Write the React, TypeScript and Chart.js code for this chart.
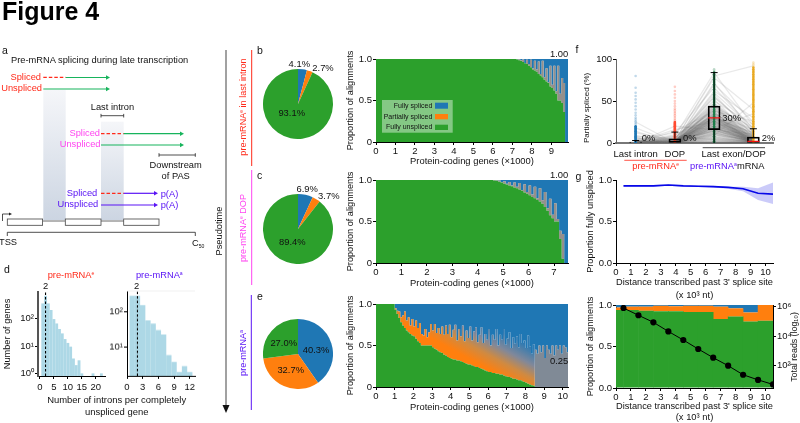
import React, { useEffect, useRef } from 'react';
import { Chart, registerables } from 'chart.js';
Chart.register(...registerables);

const FONT = '"Liberation Sans", Arial, sans-serif';
Chart.defaults.font.family = FONT;
Chart.defaults.color = '#111';

const GREEN = '#2ca02c', ORANGE = '#ff7f0e', BLUE = '#1f77b4', LIGHT = '#add8e6';
const RED = '#ff2a1a', MAGENTA = '#ff44f0', VIOLET = '#5a14f5';
const MIXED = '#95908c';

// pies
const pieB = [4.1, 2.7, 93.1];
const pieC = [6.9, 3.7, 89.4];
const pieE = [40.3, 32.7, 27.0];

// panel b: genes (x1000) sorted, fractions per gene bin
const rankB = [0, 7.1, 7.2, 7.3, 7.4, 7.5, 7.6, 7.7, 7.8, 7.9, 8.0, 8.1, 8.2, 8.3, 8.4, 8.5, 8.6, 8.7, 8.8, 8.9, 9.0, 9.1, 9.2, 9.3, 9.4, 9.5, 9.6, 9.7, 9.8, 9.85];
const greenB = [1, 1, .995, .985, .975, .965, .95, .94, .92, .90, .875, .86, .845, .82, .80, .78, .75, .73, .71, .67, .65, .62, .58, .50, .50, .47, .36, 0, 0, 0];
const orangeB = [0, 0, .003, .012, .01, .03, 0, .05, .02, .09, .01, .12, .03, .15, .02, .2, .03, .16, .01, .25, .04, .3, .03, .42, .08, .3, .35, 0, 0, 0];
const blueB = [0, 0, .002, .003, .015, .005, .05, .01, .06, .01, .115, .02, .125, .03, .18, .02, .22, .11, .28, .08, .31, .08, .39, .08, .42, .23, .29, 1, 1, 1];

// panel c
const rankC = [0, 4.5, 4.6, 4.7, 4.8, 4.9, 5.0, 5.1, 5.2, 5.3, 5.4, 5.5, 5.6, 5.7, 5.8, 5.9, 6.0, 6.1, 6.2, 6.3, 6.4, 6.5, 6.6, 6.7, 6.8, 6.9, 7.0, 7.1, 7.2, 7.3, 7.4, 7.5, 7.55];
const greenC = [1, 1, .995, .99, .98, .97, .955, .945, .935, .925, .91, .90, .885, .87, .85, .835, .815, .795, .78, .76, .74, .715, .675, .63, .575, .54, .50, .50, .29, .05, 0, 0, 0];
const orangeC = [0, 0, .004, .006, .015, .005, .03, .01, .04, .01, .06, .02, .08, .01, .1, .02, .12, .03, .14, .02, .16, .04, .18, .03, .2, .04, .22, .03, .1, .3, 0, 0, 0];
const blueC = [0, 0, .001, .004, .005, .025, .015, .045, .025, .065, .03, .08, .035, .12, .05, .145, .065, .175, .08, .22, .10, .245, .145, .34, .225, .42, .28, .47, .61, .65, 1, 1, 1];

// panel e
const rankE = [0, .9, 1.0, 1.1, 1.2, 1.3, 1.4, 1.5, 1.6, 1.7, 1.8, 1.9, 2.0, 2.1, 2.2, 2.3, 2.4, 2.5, 2.6, 2.7, 2.8, 2.9, 3.0, 3.1, 3.2, 3.3, 3.4, 3.5, 3.6, 3.7, 3.8, 3.9, 4.0, 4.1, 4.2, 4.3, 4.4, 4.5, 4.6, 4.7, 4.8, 4.9, 5.0, 5.1, 5.2, 5.3, 5.4, 5.5, 5.6, 5.7, 5.8, 5.9, 6.0, 6.1, 6.2, 6.3, 6.4, 6.5, 6.6, 6.7, 6.8, 6.9, 7.0, 7.1, 7.2, 7.3, 7.4, 7.5, 7.6, 7.7, 7.8, 7.9, 8.0, 8.1, 8.2, 8.3, 8.4, 8.5, 8.6, 8.7, 8.8, 8.9, 9.0, 9.1, 9.2, 9.3, 9.4, 9.5, 9.6, 9.7, 9.8, 9.9, 10.0, 10.1, 10.2, 10.28];
const greenE = [1, 1, .93, .88, .83, .78, .74, .71, .68, .66, .64, .62, .61, .58, .55, .53, .50, .50, .50, .50, .50, .50, .48, .46, .45, .43, .42, .41, .39, .38, .36, .35, .34, .33, .33, .32, .32, .31, .30, .29, .28, .27, .27, .26, .25, .24, .24, .23, .22, .21, .20, .19, .18, .18, .17, .17, .16, .16, .15, .15, .14, .13, .125, .12, .11, .10, .10, .09, .08, .08, .07, .06, .05, .04, .03, .02, .015, 0, 0, 0, 0, 0, 0, 0, 0, 0, 0, 0, 0, 0, 0, 0, 0, 0, 0, 0];
const orangeE = [0, 0, .02, .04, .08, .06, .12,
  .2, .12, .18, .1, .2,
  .12, .22, .16, .24, .14, .12, .2, .1, .16, .26,
  .2, .3, .2, .28, .22, .32, .24, .36, .28, .4,
  .26, .36, .42, .24, .38, .3, .44, .26, .4, .32,
  .46, .3, .42, .48, .3, .4, .5, .32, .44, .38,
  .52, .32, .46, .4, .54, .34, .48, .42, .56, .38,
  .46, .54, .36, .5, .42, .52, .4, .56, .46, .5,
  .42, .58, .46, .38, .5,
  0, 0, 0, 0, 0, 0, 0, 0, 0, 0, 0, 0, 0, 0, 0, 0, 0, 0, 0];
// genes past 8500 whose partial and spliced reads blend to grey at this scale
const mixedE = [0, 0, 0, 0, 0, 0, 0,
  0, 0, 0, 0, 0,
  0, 0, 0, 0, 0, 0, 0, 0, 0, 0,
  0, 0, 0, 0, 0, 0, 0, 0, 0, 0,
  0, 0, 0, 0, 0, 0, 0, 0, 0, 0,
  0, 0, 0, 0, 0, 0, 0, 0, 0, 0,
  0, 0, 0, 0, 0, 0, 0, 0, 0, 0,
  0, 0, 0, 0, 0, 0, 0, 0, 0, 0,
  0, 0, 0, 0, 0,
  .45, .4, .5, .42, .5, .35, .5, .45, .4, .5, .38, .5, .45, .5, .4, .5, .48, .42, .42];
const blueE = [0, 0, .05, .08, .09, .16, .14,
  .09, .2, .16, .26, .18,
  .27, .2, .29, .23, .36, .38, .3, .4, .34, .24,
  .32, .24, .35, .29, .36, .27, .37, .26, .36, .25,
  .4, .31, .25, .44, .3, .39, .26, .45, .32, .41,
  .27, .44, .33, .28, .46, .37, .28, .47, .36, .43,
  .3, .5, .37, .43, .3, .5, .37, .43, .3, .49,
  .415, .34, .53, .4, .48, .39, .52, .36, .47, .44,
  .53, .38, .51, .6, .485,
  .55, .6, .5, .58, .5, .65, .5, .55, .6, .5, .62, .5, .55, .5, .6, .5, .52, .58, .58];
const refE = [0.25, 0.25];

// panel d
const binsD1 = [1, 2, 3, 4, 5, 6, 7, 8, 9, 10, 11, 12, 13, 14, 15, 19, 22];
const genesD1 = [363, 693, 363, 208, 97, 67, 42, 29, 18, 13, 9.5, 3.5, 2, 3, 1, 1, 1];
const binsD2 = [1, 2, 3, 4, 5, 6, 7, 8, 9, 10, 11, 12];
const genesD2 = [286, 286, 155, 57, 46, 30, 22.5, 5.8, 3.7, 1.9, 2.8, 1.9];
const ticksD1 = [1, 10, 100];
const labelsD1 = ['10⁰', '10¹', '10²'];
const ticksD2 = [10, 100];
const labelsD2 = ['10¹', '10²'];

// panel f: per-gene partially spliced (%) at four regions
const lastIntronPS = [1, 0, 0, 4, 0, 0, 8, 0, 0, 2, 0, 0, 0, 1, 0, 0, 12, 0, 0, 0, 3, 0, 0, 0, 0, 0, 6, 0, 0, 1, 0, 0, 0, 2, 0, 0, 0, 0, 18, 0, 0, 0, 1, 0, 0, 0, 5, 0, 0, 0, 0, 0, 2, 0, 0, 0, 0, 25, 0, 0, 1, 0, 0, 0, 0, 3, 0, 0, 0, 0, 0, 0, 0, 2, 0, 0, 0, 5, 0, 0, 1, 0, 0, 0, 9, 0, 0, 0, 2, 0, 0, 0, 0, 1, 0, 0, 14, 0, 0, 0, 0, 3, 0, 0, 0, 1, 0, 0, 0, 0, 7, 0, 0, 0, 0, 2, 0, 0, 0, 0];
const dopPS = [8, 3, 0, 12, 1, 0, 5, 0, 2, 0, 0, 6, 0, 1, 0, 0, 3, 0, 14, 0, 0, 2, 0, 0, 7, 0, 1, 0, 0, 4, 0, 0, 0, 10, 0, 0, 2, 0, 0, 0, 1, 0, 5, 0, 0, 0, 3, 0, 0, 0, 0, 2, 0, 0, 0, 1, 0, 0, 20, 0, 0, 0, 4, 0, 0, 0, 0, 1, 0, 0, 0, 0, 3, 0, 1, 0, 6, 0, 0, 2, 0, 9, 0, 0, 1, 0, 4, 0, 0, 0, 2, 0, 0, 16, 0, 1, 0, 0, 3, 0, 0, 0, 1, 0, 5, 0, 0, 0, 2, 0, 0, 0, 1, 0, 0, 8, 0, 0, 0, 0];
const lastExonPS = [84, 78, 72, 66, 62, 58, 55, 52, 50, 48, 46, 45, 44, 43, 42, 41, 40, 39, 38, 37, 36, 35, 34, 34, 33, 32, 32, 31, 31, 30, 30, 30, 29, 29, 28, 28, 27, 27, 26, 26, 25, 25, 24, 24, 23, 23, 22, 21, 21, 20, 20, 19, 19, 18, 18, 17, 17, 16, 16, 15, 15, 14, 13, 12, 11, 10, 9, 8, 6, 5, 3, 1, 80, 70, 60, 55, 47, 44, 42, 40, 38, 37, 36, 35, 34, 33, 32, 31, 30, 29, 28, 27, 26, 25, 24, 23, 22, 21, 20, 19, 18, 17, 16, 15, 14, 13, 12, 11, 10, 9, 8, 7, 6, 5, 4, 4, 3, 2, 2, 1];
const mrnaPS = [20, 40, 12, 17, 30, 9, 15, 6, 22, 11, 4, 14, 3, 18, 8, 2, 13, 7, 26, 1, 5, 10, 0, 16, 3, 6, 2, 9, 0, 12, 4, 1, 7, 0, 3, 5, 2, 0, 8, 1, 4, 0, 6, 2, 0, 3, 1, 0, 5, 2, 0, 1, 0, 4, 0, 2, 35, 0, 1, 0, 3, 0, 1, 0, 2, 0, 48, 0, 1, 0, 0, 0, 92, 25, 18, 14, 10, 8, 6, 5, 4, 3, 2, 1, 0, 7, 3, 1, 0, 12, 5, 2, 0, 9, 4, 1, 0, 6, 2, 0, 3, 1, 0, 11, 4, 0, 2, 1, 0, 3, 0, 1, 0, 2, 0, 1, 0, 0, 1, 0];
const stripLastIntron = [0, 1, 2, 3, 4, 5, 6, 7, 8, 9, 10, 11, 12, 13, 14, 15, 16, 17, 18, 19, 20, 22, 24, 26, 28, 30, 33, 36, 40, 44, 48, 52, 56, 60, 66, 80];
const stripDop = [0, 1, 2, 3, 4, 5, 6, 7, 8, 9, 10, 11, 12, 13, 14, 15, 16, 17, 18, 19, 20, 21, 22, 23, 24, 25, 27, 29, 31, 33, 35, 37, 39, 41, 44, 47, 50, 54, 58, 62, 67];
const stripLastExon = [0, 2, 4, 6, 8, 10, 12, 14, 16, 18, 20, 22, 24, 26, 28, 30, 32, 34, 36, 38, 40, 42, 44, 46, 48, 50, 52, 54, 56, 58, 60, 62, 64, 66, 68, 70, 72, 74, 76, 78, 80, 82, 84, 86, 88];
const stripMrna = [0, 2, 4, 6, 8, 10, 12, 14, 16, 18, 20, 22, 24, 26, 28, 30, 32, 34, 36, 38, 40, 42, 44, 46, 48, 50, 52, 54, 56, 58, 60, 62, 64, 66, 68, 70, 72, 74, 76, 78, 80, 82, 84, 86, 88, 90, 92, 94, 96];
const boxPos = [0, 1, 2, 3];
const boxLow = [0, 0, 16, 0];
const boxHigh = [1, 5, 44, 7];
const whiskerHigh = [3, 13, 84, 17];
const whiskerLow = [0, 0, 0, 0];
const medianPos = [2, 3];
const medians = [30, 2];
const regionTicks = [0, 1, 2.5];
const regionLabels = ['Last intron', 'DOP', 'Last exon/DOP'];

// panel g top
const distance = [.5, 1.5, 2.5, 3.5, 4.5, 5.5, 6.5, 7.5, 8.5, 9.5, 10.5];
const fullyUnspliced = [.93, .93, .93, .94, .93, .925, .92, .91, .895, .84, .83];
const bandUpper = [.94, .94, .94, .95, .94, .935, .93, .92, .92, .90, .97];
const bandLower = [.92, .92, .92, .93, .92, .915, .91, .895, .865, .76, .71];

// panel g bottom
const binCentres = [0, 1, 2, 3, 4, 5, 6, 7, 8, 9, 10];
const greenG = [.94, .94, .93, .925, .925, .915, .915, .83, .86, .80, .81];
const orangeG = [.03, .04, .05, .065, .06, .075, .075, .15, .10, .11, .19];
const blueG = [.03, .02, .02, .01, .015, .01, .01, .02, .04, .09, 0];
const totalReads = [810000, 260000, 87000, 21000, 5500, 1350, 350, 100, 24.5, 11, 5.4];
const readTicks = [100, 10000, 1000000];
const readLabels = ['10²', '10⁴', '10⁶'];

type Box = [number, number, number, number];
type Margins = [number, number, number, number];

function ChartBox({ box, m, build }: { box: Box; m: Margins; build: (m: Margins) => any }) {
  const ref = useRef<HTMLCanvasElement | null>(null);
  const [l, t, r, b] = box;
  const [mL, mT, mR, mB] = m;
  const w = r - l + mL + mR;
  const h = b - t + mT + mB;
  useEffect(() => {
    const c = new Chart(ref.current as HTMLCanvasElement, build(m));
    return () => c.destroy();
  }, []);
  return (
    <canvas
      ref={ref}
      width={w}
      height={h}
      style={{ position: 'absolute', left: l - mL, top: t - mT, width: w, height: h, pointerEvents: 'none' }}
    />
  );
}

const TICK = 9.5;

const baseOpts = (m: Margins, rightAxis = false) => ({
  responsive: false,
  animation: false as const,
  devicePixelRatio: 1,
  layout: { padding: { left: 0, top: m[1], right: rightAxis ? 0 : m[2], bottom: 0 } },
  plugins: { legend: { display: false }, tooltip: { enabled: false }, title: { display: false } },
});

const xAxis = (m: Margins, min: number, max: number, extra: any = {}) => ({
  type: 'linear',
  min,
  max,
  offset: false,
  grid: { display: true, drawOnChartArea: false, tickLength: 3, tickColor: '#000', offset: false },
  border: { color: '#000', width: 1 },
  ticks: { stepSize: 1, includeBounds: false, autoSkip: false, maxRotation: 0, font: { size: TICK }, padding: 1, color: '#111' },
  afterFit: (s: any) => { s.height = m[3]; },
  ...extra,
});

const yAxis = (m: Margins, min: number, max: number, extra: any = {}) => ({
  min,
  max,
  grid: { display: true, drawOnChartArea: false, tickLength: 3, tickColor: '#000' },
  border: { color: '#000', width: 1 },
  ticks: { stepSize: 0.5, includeBounds: false, autoSkip: false, font: { size: TICK }, padding: 1, color: '#111' },
  afterFit: (s: any) => { s.width = m[0]; },
  ...extra,
});

const axisTitle = (text: any, lineHeight = 1.2, size = 9.2) => ({
  display: true,
  text,
  padding: 0,
  color: '#111',
  font: { size, lineHeight },
});

const pts = (xs: number[], ys: number[]) => ys.map((y, i) => ({ x: xs[i], y }));

const pieConfig = (vals: number[]) => () => ({
  type: 'pie',
  data: { labels: ['Fully spliced', 'Partially spliced', 'Fully unspliced'], datasets: [{ data: vals, backgroundColor: [BLUE, ORANGE, GREEN], borderWidth: 0 }] },
  options: { responsive: false, animation: false, devicePixelRatio: 1, plugins: { legend: { display: false }, tooltip: { enabled: false } } },
});

const area = (xs: number[], ys: number[], color: any, fill: any) => ({
  type: 'line',
  data: pts(xs, ys),
  stepped: true,
  fill,
  backgroundColor: color,
  borderColor: 'transparent',
  borderWidth: 0,
  pointRadius: 0,
});

// partial-splicing fill in panel e fades from orange beside the green edge into the blue above it
const E_MARGINS: Margins = [31, 12, 10, 26];
const fadeE = (c: any) => {
  const w = c.chart.width - E_MARGINS[0] - E_MARGINS[2];
  const h = c.chart.height - E_MARGINS[1] - E_MARGINS[3];
  const x0 = E_MARGINS[0] + w * (5 / 10.28);
  const y0 = E_MARGINS[1] + h * 0.75;
  const g = c.chart.ctx.createLinearGradient(x0, y0, x0 + 0.478 * 46, y0 - 0.879 * 46);
  g.addColorStop(0, ORANGE);
  g.addColorStop(0.14, ORANGE);
  g.addColorStop(0.42, '#cf8a42');
  g.addColorStop(0.68, '#80889a');
  g.addColorStop(1, '#2f7ab2');
  return g;
};

const stackedConfig = (xs: number[], g: number[], o: number[], bl: number[], xMax: number, ref: number[] | null, partial: any, mixed: number[] | null = null) => (m: Margins) => ({
  type: 'line',
  data: {
    datasets: [
      area(xs, g, GREEN, 'origin'),
      area(xs, o, partial, '-1'),
      ...(mixed ? [area(xs, mixed, '#808a96', '-1')] : []),
      area(xs, bl, BLUE, '-1'),
      ...(ref
        ? [{ type: 'line', stack: 'ref', data: pts([0, xMax], ref), borderColor: 'rgba(0,0,0,0.7)', borderWidth: 0.8, borderDash: [3, 2], pointRadius: 0, fill: false }]
        : []),
    ],
  },
  options: {
    ...baseOpts(m),
    scales: {
      x: xAxis(m, 0, xMax, { title: axisTitle('Protein-coding genes (×1000)', 1.2, 9.4) }),
      y: yAxis(m, 0, 1, { stacked: true, title: axisTitle('Proportion of alignments') }),
    },
  },
});

const histConfig = (bins: number[], vals: number[], xMin: number, xMax: number, yMin: number, yMax: number, step: number, ticks: number[], labels: string[], withTitle: boolean, spine: any) => (m: Margins) => ({
  type: 'bar',
  data: {
    datasets: [
      { type: 'line', data: pts([2, 2], [yMin, yMax]), borderColor: '#000', borderWidth: 1.1, borderDash: [2.5, 2], pointRadius: 0, order: 0 },
      { type: 'bar', data: pts(bins, vals), backgroundColor: LIGHT, borderWidth: 0, barPercentage: 1.02, categoryPercentage: 1, order: 1 },
    ],
  },
  options: {
    ...baseOpts(m),
    scales: {
      x: xAxis(m, xMin, xMax, { ticks: { stepSize: step, includeBounds: false, autoSkip: false, maxRotation: 0, font: { size: TICK }, padding: 3, color: '#111' } }),
      y: yAxis(m, yMin, yMax, {
        type: 'logarithmic',
        border: spine,
        ticks: { autoSkip: false, font: { size: TICK }, padding: 1, color: '#111', callback: (v: number) => labels[ticks.indexOf(v)] ?? '' },
        afterBuildTicks: (s: any) => { s.ticks = ticks.map((value) => ({ value, major: true })); },
        title: withTitle ? axisTitle('Number of genes') : { display: false },
      }),
    },
  },
});

const fConfig = (m: Margins) => {
  const lineSets = lastExonPS.map((_, i) => ({
    type: 'line',
    data: pts(boxPos, [lastIntronPS[i], dopPS[i], lastExonPS[i], mrnaPS[i]]),
    borderColor: 'rgba(110,110,110,0.15)',
    borderWidth: 1.3,
    pointRadius: 0,
    order: 9,
  }));
  const strip = (x: number, vals: number[], rgb: string, cut: number) => ({
    type: 'line',
    showLine: false,
    data: vals.map((y) => ({ x, y })),
    pointRadius: 1.3,
    pointBorderWidth: 0,
    pointBackgroundColor: (c: any) => (c.parsed && c.parsed.y > cut ? `rgba(${rgb},0.28)` : `rgba(${rgb},0.95)`),
    order: 5,
  });
  return {
    type: 'bar',
    data: {
      datasets: [
        { type: 'line', showLine: false, data: pts(medianPos, medians), pointStyle: 'line', pointRadius: 6, pointBorderColor: '#f01010', pointBorderWidth: 1.2, order: 0 },
        { type: 'bar', data: boxPos.map((x, i) => ({ x, y: [boxLow[i], boxHigh[i]] })), backgroundColor: 'transparent', borderColor: '#000', borderWidth: 1.1, borderSkipped: false, barThickness: 12, order: 1 },
        { type: 'line', showLine: false, data: pts(boxPos, whiskerHigh), pointStyle: 'line', pointRadius: 3.5, pointBorderColor: '#000', pointBorderWidth: 1, order: 2 },
        ...boxPos.map((x, i) => ({ type: 'line', data: pts([x, x], [boxHigh[i], whiskerHigh[i]]), borderColor: '#000', borderWidth: 0.9, pointRadius: 0, order: 2 })),
        ...boxPos.map((x, i) => ({ type: 'line', data: pts([x, x], [whiskerLow[i], boxLow[i]]), borderColor: '#000', borderWidth: 0.9, pointRadius: 0, order: 2 })),
        strip(0, stripLastIntron, '31,119,180', 20),
        strip(1, stripDop, '255,75,50', 25),
        strip(2, stripLastExon, '24,122,70', 85),
        strip(3, stripMrna, '232,167,27', 90),
        ...lineSets,
      ],
    },
    options: {
      ...baseOpts(m),
      scales: {
        x: xAxis(m, -0.5, 3.5, {
          grid: { display: false, drawTicks: false, tickLength: 0 },
          border: { color: '#777', width: 2 },
          ticks: { autoSkip: false, maxRotation: 0, font: { size: TICK }, padding: 6, color: '#111', includeBounds: false, callback: (v: number) => regionLabels[regionTicks.indexOf(v)] ?? '' },
          afterBuildTicks: (s: any) => { s.ticks = regionTicks.map((value) => ({ value })); },
        }),
        y: yAxis(m, 0, 100, {
          border: { color: '#666', width: 1 },
          ticks: { stepSize: 50, includeBounds: false, autoSkip: false, font: { size: TICK }, padding: 1, color: '#111' },
          title: { ...axisTitle('Partially spliced (%)'), align: 'start', font: { size: 8, lineHeight: 1.2 } },
        }),
      },
    },
  };
};

const gTopConfig = (m: Margins) => ({
  type: 'line',
  data: {
    datasets: [
      { data: pts(distance, fullyUnspliced), borderColor: '#0808e8', borderWidth: 1.7, pointRadius: 0, fill: false, order: 0 },
      { data: pts(distance, bandUpper), borderColor: 'transparent', borderWidth: 0, pointRadius: 0, fill: false, order: 1 },
      { data: pts(distance, bandLower), borderColor: 'transparent', borderWidth: 0, pointRadius: 0, fill: '-1', backgroundColor: 'rgba(70,70,235,0.28)', order: 1 },
    ],
  },
  options: {
    ...baseOpts(m),
    scales: {
      x: xAxis(m, 0, 10.5, { title: axisTitle(['Distance transcribed past 3\' splice site', '(x 10³ nt)'], 1.4, 9.4) }),
      y: yAxis(m, 0, 1, {
        ticks: { stepSize: 0.5, includeBounds: false, autoSkip: false, font: { size: TICK }, padding: 1, color: '#111', callback: (v: number) => v.toFixed(1) },
        title: axisTitle('Proportion fully unspliced'),
      }),
    },
  },
});

const gBottomConfig = (m: Margins) => {
  const barSet = (vals: number[], color: string) => ({ type: 'bar', data: pts(binCentres, vals), backgroundColor: color, borderWidth: 0, barPercentage: 1.04, categoryPercentage: 1, stack: 's', yAxisID: 'y', order: 2 });
  return {
    type: 'bar',
    data: {
      datasets: [
        { type: 'line', data: pts(distance, totalReads), yAxisID: 'y2', borderColor: '#000', borderWidth: 1, pointRadius: 3.1, pointBackgroundColor: '#000', pointBorderWidth: 0, clip: 0, order: 0, tension: 0 },
        barSet(greenG, GREEN),
        barSet(orangeG, ORANGE),
        barSet(blueG, BLUE),
      ],
    },
    options: {
      ...baseOpts(m, true),
      scales: {
        x: xAxis(m, 0, 10.5, { stacked: true, title: axisTitle(['Distance transcribed past 3\' splice site', '(x 10³ nt)'], 1.15, 9.4) }),
        y: yAxis(m, 0, 1, {
          stacked: true,
          ticks: { stepSize: 0.5, includeBounds: false, autoSkip: false, font: { size: TICK }, padding: 1, color: '#111', callback: (v: number) => v.toFixed(1) },
          title: axisTitle('Proportion of alignments'),
        }),
        y2: {
          type: 'logarithmic',
          position: 'right',
          min: 3.1,
          max: 1290000,
          stacked: false,
          grid: { display: true, drawOnChartArea: false, tickLength: 3, tickColor: '#000' },
          border: { color: '#000', width: 1 },
          ticks: { autoSkip: false, font: { size: TICK }, padding: 1, color: '#111', callback: (v: number) => readLabels[readTicks.indexOf(v)] ?? '' },
          afterBuildTicks: (s: any) => { s.ticks = readTicks.map((value) => ({ value, major: true })); },
          afterFit: (s: any) => { s.width = m[2]; },
        },
      },
    },
  };
};

function T({ x, y, c = '#111', s = 9.3, a = 'start', w, rot, children }: any) {
  return (
    <text x={x} y={y} fill={c} fontSize={s} textAnchor={a} fontWeight={w} transform={rot ? `rotate(-90 ${x} ${y})` : undefined}>
      {children}
    </text>
  );
}
const Sup = ({ t }: { t: string }) => <tspan baselineShift="super" fontSize="55%">{t}</tspan>;

function Arrow({ x1, x2, y, c }: any) {
  return (
    <g>
      <line x1={x1} x2={x2 - 3} y1={y} y2={y} stroke={c} strokeWidth={1.2} />
      <polygon points={`${x2},${y} ${x2 - 4},${y - 2.2} ${x2 - 4},${y + 2.2}`} fill={c} />
    </g>
  );
}
const Dash = ({ x1, x2, y }: any) => <line x1={x1} x2={x2} y1={y} y2={y} stroke={RED} strokeWidth={1.2} strokeDasharray="3.5 2" />;
const Bracket = ({ x1, x2, y }: any) => (
  <path d={`M${x1} ${y - 1.8}V${y + 1.8}M${x1} ${y}H${x2}M${x2} ${y - 1.8}V${y + 1.8}`} stroke="#222" strokeWidth={0.8} fill="none" />
);

const GR = '#17b45c';
const pct = (v: number) => `${v.toFixed(1)}%`;

function Overlay() {
  return (
    <svg width={800} height={423} style={{ position: 'absolute', left: 0, top: 0, fontFamily: FONT, pointerEvents: 'none' }}>
      <defs>
        <linearGradient id="shade" x1="0" y1="0" x2="0" y2="1">
          <stop offset="0" stopColor="#f5f6f9" />
          <stop offset="1" stopColor="#ccd5e2" />
        </linearGradient>
      </defs>
      <T x={2} y={20} s={25} w="bold" c="#000">Figure 4</T>

      {/* panel a */}
      <T x={2} y={54} s={10.5}>a</T>
      <T x={11} y={63}>Pre-mRNA splicing during late transcription</T>
      <rect x={43.3} y={90} width={22.4} height={130} fill="url(#shade)" />
      <rect x={101} y={121.7} width={22.7} height={98.3} fill="url(#shade)" />
      <T x={41} y={80} c={RED} a="end">Spliced</T>
      <T x={42} y={91} c={RED} a="end">Unspliced</T>
      <Dash x1={43.3} x2={65.7} y={77.3} />
      <Arrow x1={65.7} x2={110} y={77.5} c={GR} />
      <Arrow x1={43.3} x2={110} y={89} c={GR} />
      <T x={112.5} y={110} a="middle">Last intron</T>
      <Bracket x1={101} x2={123.7} y={115.7} />
      <T x={100} y={135.7} c={MAGENTA} a="end">Spliced</T>
      <T x={100.5} y={146.7} c={MAGENTA} a="end">Unspliced</T>
      <Dash x1={101} x2={123.7} y={133.7} />
      <Arrow x1={123.7} x2={184} y={133.7} c={GR} />
      <Arrow x1={101} x2={184} y={145} c={GR} />
      <Bracket x1={159} x2={195.3} y={155} />
      <T x={175.7} y={168} a="middle">Downstream</T>
      <T x={175.7} y={179} a="middle">of PAS</T>
      <T x={97.3} y={195.7} c={VIOLET} a="end">Spliced</T>
      <T x={98.3} y={206.7} c={VIOLET} a="end">Unspliced</T>
      <Dash x1={101} x2={123.7} y={193.3} />
      <Arrow x1={123.7} x2={158} y={193.3} c={VIOLET} />
      <Arrow x1={101} x2={158} y={205} c={VIOLET} />
      <T x={160.7} y={197} c={VIOLET}>p(A)</T>
      <T x={160.7} y={208} c={VIOLET}>p(A)</T>
      <line x1={43} x2={65} y1={221} y2={221} stroke="#444" strokeWidth={0.8} />
      <line x1={101} x2={124} y1={221} y2={221} stroke="#444" strokeWidth={0.8} />
      <rect x={7.3} y={219} width={35.3} height={6.3} fill="#fff" stroke="#444" strokeWidth={0.8} />
      <rect x={65.3} y={219} width={35.7} height={6.3} fill="#fff" stroke="#444" strokeWidth={0.8} />
      <rect x={123.7} y={219} width={35.3} height={6.3} fill="#fff" stroke="#444" strokeWidth={0.8} />
      <path d="M2.5 221V214H10" stroke="#222" strokeWidth={0.8} fill="none" />
      <polygon points="12,214 9,212.4 9,215.6" fill="#222" />
      <path d="M7.3 236V232.3H195.3V236" stroke="#222" strokeWidth={0.8} fill="none" />
      <T x={8} y={245} a="middle">TSS</T>
      <T x={192} y={246}>C<tspan fontSize="55%" dy="1.5">50</tspan></T>

      {/* pseudotime */}
      <line x1={226} x2={226} y1={50} y2={408} stroke="#8a8a8a" strokeWidth={1.6} />
      <polygon points="226,413 222.5,405 229.5,405" fill="#111" />
      <T x={222} y={231} a="middle" rot>Pseudotime</T>
      <T x={246} y={107} a="middle" c={RED} s={9.1} rot>pre-mRNA<Sup t="e" /> in last intron</T>
      <line x1={251.7} x2={251.7} y1={50} y2={166} stroke={RED} strokeWidth={1} />
      <T x={246} y={228} a="middle" c={MAGENTA} s={9.1} rot>pre-mRNA<Sup t="e" /> DOP</T>
      <line x1={251.7} x2={251.7} y1={170} y2={285} stroke={MAGENTA} strokeWidth={1} />
      <T x={245.5} y={353} a="middle" c={VIOLET} s={9.1} rot>pre-mRNA<Sup t="a" /></T>
      <line x1={251.3} x2={251.3} y1={295} y2={410} stroke={VIOLET} strokeWidth={1} />

      {/* panel letters */}
      <T x={257} y={54} s={10.5}>b</T>
      <T x={257} y={179} s={10.5}>c</T>
      <T x={257} y={300} s={10.5}>e</T>
      <T x={4} y={273} s={10.5}>d</T>
      <T x={575.5} y={53} s={10.5}>f</T>
      <T x={575.5} y={180} s={10.5}>g</T>

      {/* pie labels */}
      <T x={299.3} y={67.3} s={9.4} a="middle">{pct(pieB[0])}</T>
      <T x={323} y={71} s={9.4} a="middle">{pct(pieB[1])}</T>
      <T x={291.7} y={116} s={9.4} a="middle">{pct(pieB[2])}</T>
      <T x={307.2} y={191.7} s={9.4} a="middle">{pct(pieC[0])}</T>
      <T x={328.8} y={199.3} s={9.4} a="middle">{pct(pieC[1])}</T>
      <T x={292.3} y={245} s={9.4} a="middle">{pct(pieC[2])}</T>
      <T x={316} y={352.7} s={9.4} a="middle">{pct(pieE[0])}</T>
      <T x={290.7} y={373.3} s={9.4} a="middle">{pct(pieE[1])}</T>
      <T x={283.7} y={345.7} s={9.4} a="middle">{pct(pieE[2])}</T>

      {/* legend in panel b */}
      <rect x={382} y={100} width={70.7} height={32.7} fill="rgba(255,255,255,0.42)" />
      <rect x={435} y={102.7} width={13} height={6} fill={BLUE} />
      <rect x={435} y={114} width={13} height={5.3} fill={ORANGE} />
      <rect x={435} y={124.7} width={13} height={5.3} fill={GREEN} />
      <T x={432.3} y={107.7} s={7} a="end">Fully spliced</T>
      <T x={432.3} y={118.7} s={7} a="end">Partially spliced</T>
      <T x={432.3} y={129.3} s={7} a="end">Fully unspliced</T>
      <T x={568.3} y={56.7} s={9.4} a="end">1.00</T>
      <T x={568.3} y={177.7} s={9.4} a="end">1.00</T>
      <T x={568.3} y={364.3} s={9.4} a="end">{refE[0].toFixed(2)}</T>

      {/* panel d */}
      <T x={71} y={278.3} c={RED} a="middle">pre-mRNA<Sup t="e" /></T>
      <T x={159.3} y={278.3} c={VIOLET} a="middle">pre-mRNA<Sup t="a" /></T>
      <T x={45.7} y={289.3} s={9.4} a="middle">2</T>
      <T x={136.7} y={289.3} s={9.4} a="middle">2</T>
      <T x={116.7} y={403.3} s={9.45} a="middle">Number of introns per completely</T>
      <T x={116.7} y={415} s={9.45} a="middle">unspliced gene</T>
      <line x1={127} x2={195} y1={291} y2={291} stroke="#eee" strokeWidth={0.8} />

      {/* panel f */}
      <T x={641.7} y={140.7} s={9.4}>0%</T>
      <T x={683} y={140.7} s={9.4}>0%</T>
      <T x={722.3} y={121} s={9.4}>30%</T>
      <T x={761.7} y={140.7} s={9.4}>2%</T>
      <line x1={702.7} x2={765} y1={147.7} y2={147.7} stroke="#111" strokeWidth={0.8} />
      <line x1={624.3} x2={686.7} y1={160.3} y2={160.3} stroke={RED} strokeWidth={0.8} />
      <T x={655.7} y={168.7} c={RED} a="middle">pre-mRNA<Sup t="e" /></T>
      <T x={690} y={168.7} c={VIOLET}>pre-mRNA<Sup t="a" /></T>
      <T x={737} y={168.7}>mRNA</T>

      {/* panel g right axis title */}
      <T x={797} y={347} s={8.8} a="middle" rot>Total reads (log₁₀)</T>
    </svg>
  );
}

export default function App() {
  return (
    <div style={{ position: 'fixed', left: 0, top: 0, width: 800, height: 423, overflow: 'hidden', background: '#fff' }}>
      <ChartBox box={[263.3, 69, 333.3, 139]} m={[0, 0, 0, 0]} build={pieConfig(pieB)} />
      <ChartBox box={[263.3, 194.3, 333.3, 264.3]} m={[0, 0, 0, 0]} build={pieConfig(pieC)} />
      <ChartBox box={[263.3, 319.3, 333.3, 389.3]} m={[0, 0, 0, 0]} build={pieConfig(pieE)} />
      <ChartBox box={[376, 59, 568, 142]} m={[31, 12, 10, 25]} build={stackedConfig(rankB, greenB, orangeB, blueB, 9.85, null, MIXED)} />
      <ChartBox box={[376, 180, 568, 263]} m={[31, 12, 10, 26]} build={stackedConfig(rankC, greenC, orangeC, blueC, 7.55, null, MIXED)} />
      <ChartBox box={[376, 304, 568, 387]} m={E_MARGINS} build={stackedConfig(rankE, greenE, orangeE, blueE, 10.28, refE, fadeE, mixedE)} />
      <ChartBox box={[38, 292, 105, 376]} m={[36, 7, 8, 20]} build={histConfig(binsD1, genesD1, -0.7, 23.3, 0.8, 950, 5, ticksD1, labelsD1, true, { color: '#555', width: 2 })} />
      <ChartBox box={[126.7, 291, 195, 375.7]} m={[24, 7, 8, 20]} build={histConfig(binsD2, genesD2, 0, 13, 1.48, 390, 3, ticksD2, labelsD2, false, { color: '#000', width: 1 })} />
      <ChartBox box={[616, 59, 773, 143]} m={[34, 7, 10, 22]} build={fConfig} />
      <ChartBox box={[616, 180, 773, 263.3]} m={[31, 12, 10, 39]} build={gTopConfig} />
      <ChartBox box={[616, 305, 773, 388]} m={[31, 12, 27, 35]} build={gBottomConfig} />
      <Overlay />
    </div>
  );
}
